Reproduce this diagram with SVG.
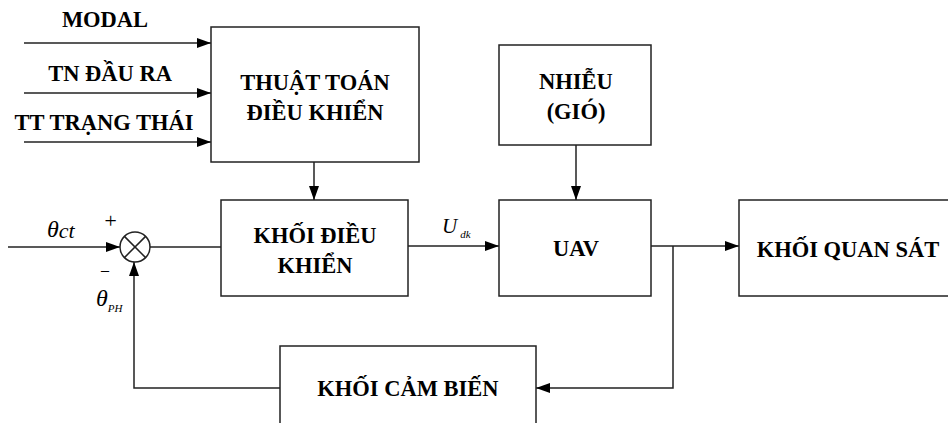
<svg xmlns="http://www.w3.org/2000/svg" width="948" height="423" viewBox="0 0 948 423">
<defs>
<style>
.box{fill:#fff;stroke:#222;stroke-width:1.5}
.ln{fill:none;stroke:#222;stroke-width:1.5}
.arr{marker-end:url(#ah)}
.t{font-family:'Liberation Serif','Times New Roman',Tinos,'Noto Serif','Nimbus Roman','FreeSerif',Times,serif;font-weight:bold;font-size:22.5px;fill:#000;text-anchor:middle}
.m{font-family:'Liberation Serif','Times New Roman',Tinos,'Noto Serif','Nimbus Roman','FreeSerif',Times,serif;font-style:italic;fill:#000}
</style>
<marker id="ah" markerUnits="userSpaceOnUse" markerWidth="14" markerHeight="10" refX="14" refY="5" orient="auto">
<path d="M0,0 L14,5 L0,10 z" fill="#000"/>
</marker>
</defs>
<rect width="948" height="423" fill="#fff"/>

<g id="connectors">
<line class="ln arr" x1="24" y1="43" x2="211" y2="43"/>
<line class="ln arr" x1="24" y1="93" x2="211" y2="93"/>
<line class="ln arr" x1="24" y1="142" x2="211" y2="142"/>
<line class="ln arr" x1="314" y1="162" x2="314" y2="200"/>
<line class="ln arr" x1="576" y1="145" x2="576" y2="200"/>
<line class="ln arr" x1="8" y1="247" x2="120" y2="247"/>
<line class="ln" x1="150" y1="247" x2="221" y2="247"/>
<line class="ln arr" x1="408" y1="246" x2="499" y2="246"/>
<line class="ln arr" x1="651" y1="246" x2="739" y2="246"/>
<polyline class="ln arr" points="673,246 673,388 536,388"/>
<polyline class="ln arr" points="280,388 134,388 134,262"/>
</g>

<g id="labels">
<text class="t" x="105" y="27">MODAL</text>
<text class="t" x="110" y="81">TN ĐẦU RA</text>
<text class="t" x="104" y="130">TT TRẠNG THÁI</text>
<text class="m" x="47" y="237" font-size="24">θ<tspan font-size="22" dy="1">ct</tspan></text>
<text class="m" x="103" y="228" font-size="22" font-style="normal">+</text>
<text class="m" x="101" y="275" font-size="16" font-style="normal">–</text>
<text class="m" x="96" y="306" font-size="24">θ<tspan font-size="11" dy="6">PH</tspan></text>
<text class="m" x="442" y="233" font-size="21">U<tspan font-size="11" dx="3" dy="5">dk</tspan></text>
</g>

<g id="n-thuattoan">
<rect class="box" x="211" y="27" width="208" height="135"/>
<text class="t" x="315" y="90">THUẬT TOÁN</text>
<text class="t" x="315" y="120">ĐIỀU KHIỂN</text>
</g>

<g id="n-sum">
<circle class="ln" cx="135" cy="247" r="15" fill="#fff"/>
<line class="ln" x1="124.4" y1="236.4" x2="145.6" y2="257.6"/>
<line class="ln" x1="145.6" y1="236.4" x2="124.4" y2="257.6"/>
</g>

<g id="n-dieukhien">
<rect class="box" x="221" y="200" width="187" height="96"/>
<text class="t" x="315" y="243">KHỐI ĐIỀU</text>
<text class="t" x="315" y="273">KHIỂN</text>
</g>

<g id="n-nhieu">
<rect class="box" x="499" y="45" width="152" height="100"/>
<text class="t" x="576" y="89">NHIỄU</text>
<text class="t" x="576" y="119">(GIÓ)</text>
</g>

<g id="n-uav">
<rect class="box" x="499" y="200" width="152" height="96"/>
<text class="t" x="576" y="256">UAV</text>
</g>

<g id="n-quansat">
<rect class="box" x="739" y="200" width="220" height="96"/>
<text class="t" x="848" y="257">KHỐI QUAN SÁT</text>
</g>

<g id="n-cambien">
<rect class="box" x="280" y="346" width="256" height="90"/>
<text class="t" x="408" y="396">KHỐI CẢM BIẾN</text>
</g>
</svg>
